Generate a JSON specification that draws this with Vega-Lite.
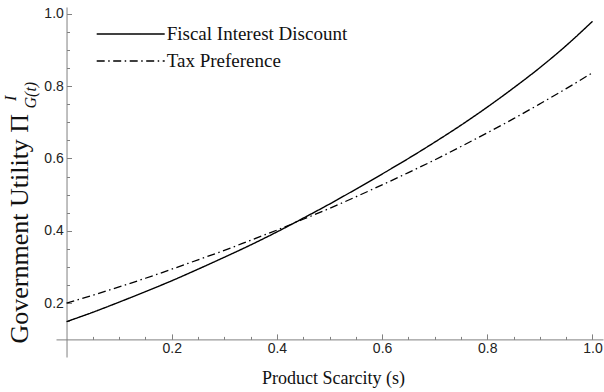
{
  "$schema": "https://vega.github.io/schema/vega-lite/v6.json",
  "width": 547,
  "height": 350,
  "autosize": {"type": "none"},
  "padding": {"left": 56, "top": 7, "right": 1, "bottom": 35},
  "background": "white",
  "config": {
    "view": {"stroke": null},
    "axis": {
      "grid": false,
      "domainColor": "#808080",
      "tickColor": "#808080",
      "domainWidth": 1,
      "tickWidth": 1,
      "labelFont": "Liberation Sans",
      "labelFontSize": 14,
      "labelColor": "#222222",
      "labelFlush": false,
      "titleFont": "Liberation Serif",
      "titleFontWeight": "normal",
      "titleColor": "#111111"
    }
  },
  "data": {
    "values": [
      {"s": 0.00, "series": "Fiscal Interest Discount", "u": 0.149},
      {"s": 0.05, "series": "Fiscal Interest Discount", "u": 0.175},
      {"s": 0.10, "series": "Fiscal Interest Discount", "u": 0.203},
      {"s": 0.15, "series": "Fiscal Interest Discount", "u": 0.232},
      {"s": 0.20, "series": "Fiscal Interest Discount", "u": 0.262},
      {"s": 0.25, "series": "Fiscal Interest Discount", "u": 0.294},
      {"s": 0.30, "series": "Fiscal Interest Discount", "u": 0.327},
      {"s": 0.35, "series": "Fiscal Interest Discount", "u": 0.361},
      {"s": 0.40, "series": "Fiscal Interest Discount", "u": 0.397},
      {"s": 0.45, "series": "Fiscal Interest Discount", "u": 0.435},
      {"s": 0.50, "series": "Fiscal Interest Discount", "u": 0.474},
      {"s": 0.55, "series": "Fiscal Interest Discount", "u": 0.515},
      {"s": 0.60, "series": "Fiscal Interest Discount", "u": 0.557},
      {"s": 0.65, "series": "Fiscal Interest Discount", "u": 0.600},
      {"s": 0.70, "series": "Fiscal Interest Discount", "u": 0.645},
      {"s": 0.75, "series": "Fiscal Interest Discount", "u": 0.692},
      {"s": 0.80, "series": "Fiscal Interest Discount", "u": 0.742},
      {"s": 0.85, "series": "Fiscal Interest Discount", "u": 0.795},
      {"s": 0.90, "series": "Fiscal Interest Discount", "u": 0.851},
      {"s": 0.95, "series": "Fiscal Interest Discount", "u": 0.912},
      {"s": 1.00, "series": "Fiscal Interest Discount", "u": 0.979},
      {"s": 0.00, "series": "Tax Preference", "u": 0.200},
      {"s": 0.05, "series": "Tax Preference", "u": 0.222},
      {"s": 0.10, "series": "Tax Preference", "u": 0.245},
      {"s": 0.15, "series": "Tax Preference", "u": 0.269},
      {"s": 0.20, "series": "Tax Preference", "u": 0.294},
      {"s": 0.25, "series": "Tax Preference", "u": 0.320},
      {"s": 0.30, "series": "Tax Preference", "u": 0.346},
      {"s": 0.35, "series": "Tax Preference", "u": 0.374},
      {"s": 0.40, "series": "Tax Preference", "u": 0.402},
      {"s": 0.45, "series": "Tax Preference", "u": 0.432},
      {"s": 0.50, "series": "Tax Preference", "u": 0.462},
      {"s": 0.55, "series": "Tax Preference", "u": 0.494},
      {"s": 0.60, "series": "Tax Preference", "u": 0.527},
      {"s": 0.65, "series": "Tax Preference", "u": 0.561},
      {"s": 0.70, "series": "Tax Preference", "u": 0.596},
      {"s": 0.75, "series": "Tax Preference", "u": 0.633},
      {"s": 0.80, "series": "Tax Preference", "u": 0.671},
      {"s": 0.85, "series": "Tax Preference", "u": 0.710},
      {"s": 0.90, "series": "Tax Preference", "u": 0.751},
      {"s": 0.95, "series": "Tax Preference", "u": 0.793},
      {"s": 1.00, "series": "Tax Preference", "u": 0.837}
    ]
  },
  "layer": [
    {
      "transform": [{"filter": "datum.series === 'Fiscal Interest Discount'"}],
      "mark": {"type": "line", "color": "black", "strokeWidth": 1.4, "interpolate": "monotone"},
      "encoding": {
        "x": {
          "field": "s",
          "type": "quantitative",
          "scale": {"domain": [-0.02, 1.02], "nice": false, "zero": false},
          "axis": {
            "orient": "bottom",
            "values": [0.2, 0.4, 0.6, 0.8, 1.0],
            "format": ".1f",
            "offset": -17.6,
            "tickSize": -5.5,
            "labelPadding": 7.7,
            "title": "Product Scarcity (s)",
            "titleFontSize": 18,
            "titleX": 277,
            "titleY": 44,
            "titleAlign": "center",
            "titleBaseline": "alphabetic"
          }
        },
        "y": {
          "field": "u",
          "type": "quantitative",
          "scale": {"domain": [0.0514, 1.0186], "nice": false, "zero": false},
          "axis": {
            "orient": "left",
            "values": [0.2, 0.4, 0.6, 0.8, 1.0],
            "format": ".1f",
            "offset": -10.52,
            "tickSize": -5,
            "labelPadding": 8.2,
            "title": "Government Utility Π",
            "titleFontSize": 26,
            "titleAngle": 270,
            "titleAlign": "left",
            "titleBaseline": "alphabetic",
            "titleX": -39.5,
            "titleY": 336
          }
        },
        "strokeDash": {
          "field": "series",
          "type": "nominal",
          "scale": {
            "domain": ["Fiscal Interest Discount", "Tax Preference"],
            "range": [[1, 0], [8, 3.5, 1.5, 3.5]]
          },
          "legend": {
            "orient": "none",
            "legendX": 39.7,
            "legendY": 18,
            "title": null,
            "padding": 0,
            "symbolType": "stroke",
            "symbolSize": 4624,
            "symbolStrokeColor": "black",
            "symbolStrokeWidth": 1.3,
            "clipHeight": 18,
            "rowPadding": 8,
            "labelFont": "Liberation Serif",
            "labelFontSize": 19,
            "labelColor": "#111111",
            "labelOffset": 1,
            "labelLimit": 400
          }
        }
      }
    },
    {
      "transform": [{"filter": "datum.series === 'Tax Preference'"}],
      "mark": {"type": "line", "color": "black", "strokeWidth": 1.3, "interpolate": "monotone", "strokeDash": [8, 3.5, 1.5, 3.5]},
      "encoding": {
        "x": {
          "field": "s",
          "type": "quantitative",
          "axis": {
            "orient": "bottom",
            "values": [0.05, 0.1, 0.15, 0.25, 0.3, 0.35, 0.45, 0.5, 0.55, 0.65, 0.7, 0.75, 0.85, 0.9, 0.95],
            "offset": -17.6,
            "tickSize": -3,
            "labels": false,
            "domain": false,
            "title": "I",
            "titleFontStyle": "italic",
            "titleFontSize": 16,
            "titleAngle": 270,
            "titleAlign": "left",
            "titleBaseline": "alphabetic",
            "titleX": -41,
            "titleY": -239
          }
        },
        "y": {
          "field": "u",
          "type": "quantitative",
          "axis": {
            "orient": "left",
            "values": [0.15, 0.25, 0.3, 0.35, 0.45, 0.5, 0.55, 0.65, 0.7, 0.75, 0.85, 0.9, 0.95],
            "offset": -10.52,
            "tickSize": -3,
            "labels": false,
            "domain": false,
            "title": "G(t)",
            "titleFontStyle": "italic",
            "titleFontSize": 16,
            "titleAngle": 270,
            "titleAlign": "left",
            "titleBaseline": "alphabetic",
            "titleX": -31.5,
            "titleY": 101
          }
        }
      }
    }
  ],
  "resolve": {"axis": {"x": "independent", "y": "independent"}}
}
